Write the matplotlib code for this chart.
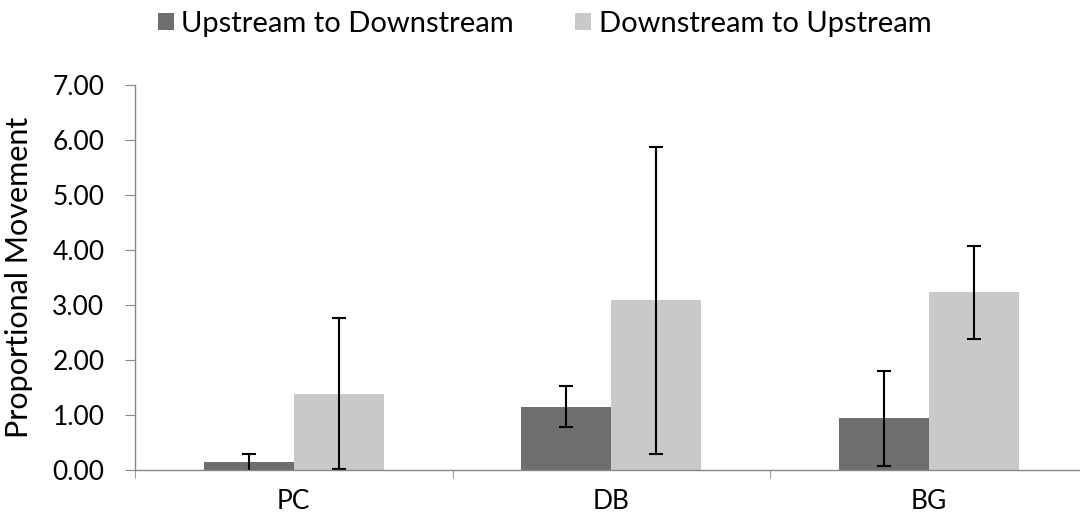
import matplotlib
matplotlib.use("Agg")
import matplotlib.pyplot as plt
import numpy as np

categories = ["PC", "DB", "BG"]
up_to_down = [0.14, 1.15, 0.94]
up_to_down_err = [0.15, 0.37, 0.86]
down_to_up = [1.39, 3.09, 3.23]
down_to_up_err = [1.37, 2.79, 0.85]
yticks = [0, 1, 2, 3, 4, 5, 6, 7]

plt.rcParams['font.family'] = ['Lato', 'DejaVu Sans']

fig = plt.figure(figsize=(10.8, 5.29), dpi=100)
ax = fig.add_axes([0.125, 0.1115, 0.882, 0.7278])

x = np.arange(len(categories))
w = 0.283
dark = "#6e6e6e"
light = "#c9c9c9"
ekw = dict(ecolor="black", elinewidth=1.5, capsize=5, capthick=1.5)
b1 = ax.bar(x - w / 2, up_to_down, w, yerr=up_to_down_err, color=dark,
            error_kw=ekw, label="Upstream to Downstream")
b2 = ax.bar(x + w / 2, down_to_up, w, yerr=down_to_up_err, color=light,
            error_kw=ekw, label="Downstream to Upstream")

ax.set_xlim(-0.5, 2.5)
ax.set_ylim(0, 7)
ax.set_yticks(yticks)
ax.set_yticklabels([f"{v:.2f}" for v in yticks])
ax.set_xticks(x)
ax.set_xticklabels(categories)
ax.set_xticks([-0.5, 0.5, 1.5, 2.5], minor=True)
ax.tick_params(axis="x", which="major", length=0, pad=14, labelsize=19)
ax.tick_params(axis="x", which="minor", length=6, color="#888888")
ax.tick_params(axis="y", length=7, color="#888888", labelsize=19, pad=15)

for s in ["top", "right"]:
    ax.spines[s].set_visible(False)
for s in ["left", "bottom"]:
    ax.spines[s].set_color("#888888")
    ax.spines[s].set_linewidth(1.0)

ax.set_ylabel("Proportional Movement", fontsize=22)
ax.yaxis.set_label_coords(-0.107, 0.5)

fig.legend(handles=[b1, b2], loc="center left", bbox_to_anchor=(0.122, 0.955),
           ncol=2, frameon=False, fontsize=21, handlelength=0.55, handleheight=0.55,
           handletextpad=0.25, columnspacing=2.1)

fig.savefig("out.png", dpi=100)
